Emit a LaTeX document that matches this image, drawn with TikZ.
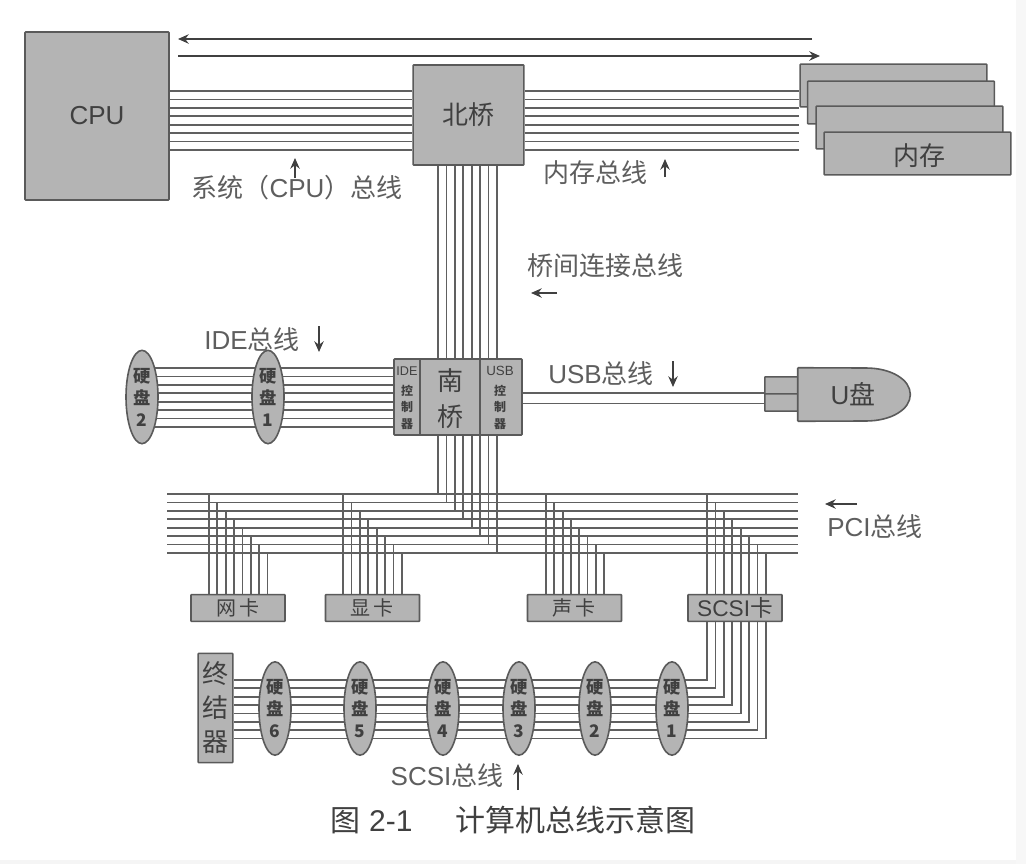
\documentclass[tikz,border=0pt]{standalone}
\usepackage{fontspec}
\setmainfont{Liberation Sans}
\newfontfamily\cjk{Noto Sans CJK SC}
\usetikzlibrary{shapes.geometric,arrows.meta}
\pgfdeclarelayer{bg}
\pgfsetlayers{bg,main}
\definecolor{boxg}{HTML}{B4B4B4}
\definecolor{edgeg}{HTML}{5A5A5A}
\definecolor{lineg}{HTML}{606060}
\definecolor{txtg}{HTML}{404040}
\definecolor{lblg}{HTML}{5E5E5E}
\tikzset{
  x=0.75pt,y=-0.75pt,
  blk/.style={draw=edgeg,line width=1.2pt,fill=boxg,inner sep=0pt,rounded corners=0.5pt},
  disk/.style={ellipse,draw=edgeg,line width=1.2pt,fill=boxg,inner sep=0pt,minimum width=24pt,minimum height=70pt},
  bus/.style={draw=lineg,line width=1.35pt},
  tiny/.style={text=txtg,inner sep=0pt,align=center,font=\cjk\bfseries\fontsize{13}{16.5}\selectfont},
  ctl/.style={text=txtg,inner sep=0pt,align=center,font=\cjk\bfseries\fontsize{9}{12.4}\selectfont},
  lbl/.style={text=lblg,inner sep=0pt,font=\fontsize{19.5}{22}\selectfont},
  big/.style={text=txtg,inner sep=0pt,font=\fontsize{19.5}{22}\selectfont},
  ptr/.style={draw=txtg,line width=1.3pt,-{Stealth[length=8pt,width=7pt]}},
}
\begin{document}
\begin{tikzpicture}
\useasboundingbox (0,0) rectangle (1026,864);
\begin{pgfonlayer}{bg}
\fill[white] (0,0) rectangle (1026,864);
\fill[black!4] (0,860) rectangle (1026,864);
\fill[black!3] (1016,0) rectangle (1026,864);
\end{pgfonlayer}

% blocks
\node[blk,minimum width=108pt,minimum height=126pt] (cpu) at (97,116) {};
\node[big] (cput) at (97,116) {CPU};
\node[blk,minimum width=83pt,minimum height=75pt] (nb) at (468.5,115) {};
\node[big] (nbt) at (468.5,115) {\cjk 北桥};
\node[blk,minimum width=140pt,minimum height=32pt] (mem1) at (893.5,85.5) {};
\node[blk,minimum width=140pt,minimum height=32pt] (mem2) at (901,102.5) {};
\node[blk,minimum width=140pt,minimum height=32pt] (mem3) at (909.5,127.5) {};
\node[blk,minimum width=140pt,minimum height=32pt] (mem4) at (917.5,153.5) {};
\node[big] (memt) at (919,156) {\cjk 内存};

\node[blk,minimum width=96pt,minimum height=57pt] (sb) at (458,397) {};
\draw[edgeg,line width=1.2pt] (420,359) -- (420,435) (480,359) -- (480,435);
\node[ctl,font=\fontsize{9.5}{10}\selectfont] (idet) at (407,371) {IDE};
\node[ctl] (idec) at (407,407) {控\\制\\器};
\node[ctl,font=\fontsize{10}{10}\selectfont] (usbt) at (500,371) {USB};
\node[ctl] (usbc) at (500,407) {控\\制\\器};
\node[big,align=center,font=\cjk\fontsize{19.5}{27}\selectfont] (sbt) at (450,399) {南\\桥};

\node[disk] (d2a) at (142,397) {};
\node[tiny] (d2at) at (142,397) {硬\\盘\\2};
\node[disk] (d1a) at (268,397) {};
\node[tiny] (d1at) at (268,397) {硬\\盘\\1};

\node[blk,minimum width=25pt,minimum height=13pt] (u1) at (781.5,385.5) {};
\node[blk,minimum width=25pt,minimum height=13pt] (u2) at (781.5,402.5) {};
\node[inner sep=0pt,minimum width=84pt,minimum height=39.75pt] (ud) at (854,394.5) {};
\draw[blk] (ud.north west) -- (865,368) .. controls (892,368) and (910,380) .. (ud.east) .. controls (910,409) and (892,421) .. (865,421) -- (ud.south west) -- cycle;
\node[big] (udt) at (853,394) {U{\cjk 盘}};

\node[blk,minimum width=70.5pt,minimum height=20pt] (c1) at (238,608) {};
\node[blk,minimum width=70.5pt,minimum height=20pt] (c2) at (372.5,608) {};
\node[blk,minimum width=70.5pt,minimum height=20pt] (c3) at (574.5,608) {};
\node[blk,minimum width=70.5pt,minimum height=20pt] (c4) at (735,608) {};
\node[text=txtg,inner sep=0pt,font=\cjk\fontsize{15}{16}\selectfont] (c1t) at (238,608) {网\,卡};
\node[text=txtg,inner sep=0pt,font=\cjk\fontsize{15}{16}\selectfont] (c2t) at (372,608) {显\,卡};
\node[text=txtg,inner sep=0pt,font=\cjk\fontsize{15}{16}\selectfont] (c3t) at (574,608) {声\,卡};
\node[text=txtg,inner sep=0pt,font=\fontsize{17}{18}\selectfont] (c4t) at (735,608) {SCSI{\cjk 卡}};

\node[blk,minimum width=26pt,minimum height=82pt] (term) at (215.5,708) {};
\node[big,align=center,font=\cjk\fontsize{19.5}{25.5}\selectfont] (termt) at (215.5,708) {终\\结\\器};
\foreach \n/\cx in {6/275,5/360,4/443,3/519,2/595,1/672}{
  \node[disk] (s\n) at (\cx,708.5) {};
  \node[tiny] (s\n t) at (\cx,708.5) {硬\\盘\\\n};
}

% named free ends of the buses
\coordinate (pciw) at (167,494);
\coordinate (pcie) at (798,494);

\begin{pgfonlayer}{bg}
\foreach \i in {0,...,7}{
  \pgfmathsetmacro{\yt}{91+8.4*\i}
  \draw[bus] (cpu.east |- 0,\yt) -- (nb.west |- 0,\yt);
  \draw[bus] (nb.east |- 0,\yt) -- (mem1.west |- 0,\yt);
  \pgfmathsetmacro{\xv}{438+8.4*\i}
  \pgfmathsetmacro{\yp}{494+8.4*\i}
  \draw[bus] (\xv,0 |- nb.south) -- (\xv,0 |- sb.north);
  \draw[bus] (\xv,0 |- sb.south) -- (\xv,\yp);
  \draw[bus] (pciw |- 0,\yp) -- (pcie |- 0,\yp);
  \pgfmathsetmacro{\yi}{368+8.4*\i}
  \draw[bus] (d2a.center |- 0,\yi) -- (sb.west |- 0,\yi);
  \pgfmathsetmacro{\xa}{209+8.35*\i}
  \draw[bus] (\xa,\yp) -- (\xa,0 |- c1.north);
  \pgfmathsetmacro{\xb}{343+8.4*\i}
  \draw[bus] (\xb,\yp) -- (\xb,0 |- c2.north);
  \pgfmathsetmacro{\xc}{546+8.3*\i}
  \draw[bus] (\xc,\yp) -- (\xc,0 |- c3.north);
  \pgfmathsetmacro{\xd}{707+8.4*\i}
  \pgfmathsetmacro{\ys}{680+8.35*\i}
  \draw[bus] (\xd,\yp) -- (\xd,0 |- c4.north);
  \draw[bus] (\xd,0 |- c4.south) -- (\xd,\ys) -- (term.east |- 0,\ys);
}
\draw[bus] (sb.east |- 0,393) -- (u1.west |- 0,393);
\draw[bus] (sb.east |- 0,403.5) -- (u1.west |- 0,403.5);
\end{pgfonlayer}

% top arrows
\coordinate (a1s) at (812,39);
\coordinate (a1e) at (178,39);
\coordinate (a2s) at (178,56);
\coordinate (a2e) at (820,56);
\draw[ptr] (a1s) -- (a1e);
\draw[ptr] (a2s) -- (a2e);

% labels
\node[lbl] (l1) at (297,188) {{\cjk 系统（}CPU{\cjk ）总线}};
\coordinate (p1s) at (295,178); \coordinate (p1e) at (295,158);
\draw[ptr] (p1s) -- (p1e);
\node[lbl] (l2) at (595,173) {\cjk 内存总线};
\coordinate (p2s) at (665,177); \coordinate (p2e) at (665,159);
\draw[ptr] (p2s) -- (p2e);
\node[lbl] (l3) at (605,266) {\cjk 桥间连接总线};
\coordinate (p3s) at (557,293); \coordinate (p3e) at (531,293);
\draw[ptr] (p3s) -- (p3e);
\node[lbl] (l4) at (252,340) {IDE{\cjk 总线}};
\coordinate (p4s) at (319,326); \coordinate (p4e) at (319,352);
\draw[ptr] (p4s) -- (p4e);
\node[lbl] (l5) at (601,374) {USB{\cjk 总线}};
\coordinate (p5s) at (673,361); \coordinate (p5e) at (673,387);
\draw[ptr] (p5s) -- (p5e);
\node[lbl] (l6) at (875,527) {PCI{\cjk 总线}};
\coordinate (p6s) at (857,504); \coordinate (p6e) at (825,504);
\draw[ptr] (p6s) -- (p6e);
\node[lbl] (l7) at (447,776) {SCSI{\cjk 总线}};
\coordinate (p7s) at (518,790); \coordinate (p7e) at (518,764);
\draw[ptr] (p7s) -- (p7e);
\node[text=txtg,inner sep=0pt,font=\fontsize{22.5}{24}\selectfont] (cap) at (513,820) {{\cjk 图} 2-1\hspace{1.42em}{\cjk 计算机总线示意图}};
\end{tikzpicture}
\end{document}
